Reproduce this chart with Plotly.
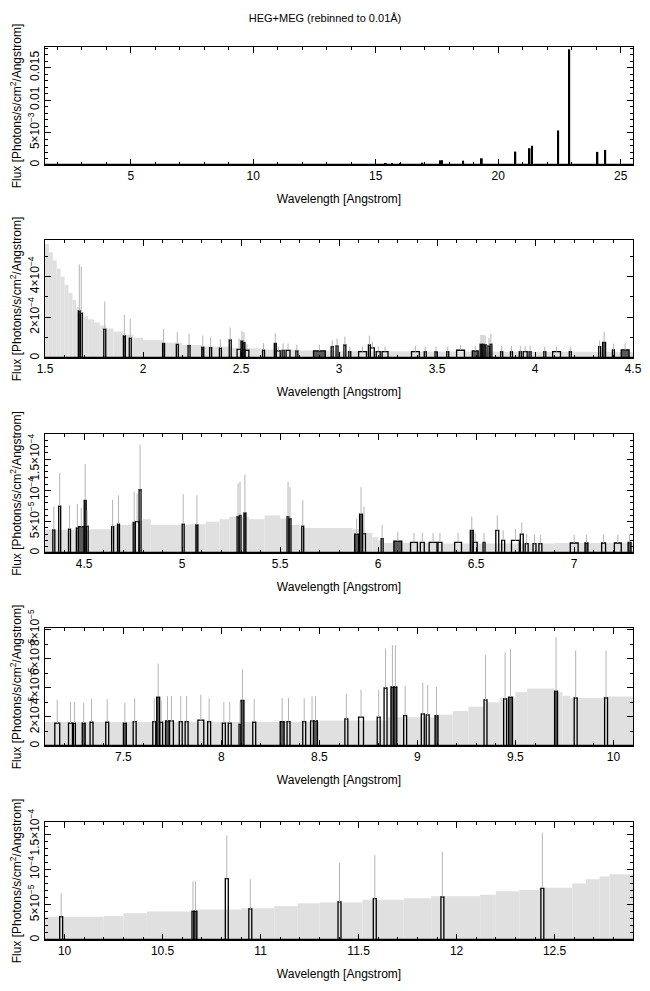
import plotly.graph_objects as go

FONT = "Liberation Sans, Arial, Helvetica, sans-serif"

# ---------------- Panel 1 : full range (line fluxes) ----------------
p1_wave = [15.41, 15.66, 16.00, 16.90, 17.64, 17.71, 18.57, 19.33, 20.70,
           21.28, 21.38, 22.45, 22.90, 24.05, 24.37]
p1_flux = [0.00020, 0.00020, 0.00020, 0.00036, 0.00072, 0.00072, 0.00067,
           0.00103, 0.00207, 0.00259, 0.00295, 0.00533, 0.01784, 0.00202, 0.00233]

# ---------------- Panel 2 : 1.5 - 4.5 A (units 1e-4) ----------------
p2_env_edge = [1.50, 1.52, 1.54, 1.56, 1.58, 1.60, 1.62, 1.64, 1.66, 1.68, 1.70,
               1.72, 1.75, 1.78, 1.81, 1.85, 1.90, 1.95, 2.00, 2.10, 2.20, 2.30,
               2.45, 2.60, 2.80, 3.00, 3.40, 3.80, 4.20, 4.50]
p2_env_val = [5.6, 5.2, 4.8, 4.4, 4.0, 3.6, 3.2, 2.85, 2.5, 2.25, 2.05, 1.9,
              1.75, 1.6, 1.45, 1.3, 1.15, 1.0, 0.88, 0.75, 0.64, 0.56, 0.48,
              0.42, 0.37, 0.33, 0.32, 0.31, 0.31]
p2_lo = [1.670, 1.680, 1.800, 1.900, 1.930, 2.100, 2.170, 2.230, 2.300, 2.340,
         2.390, 2.440, 2.480, 2.500, 2.510, 2.520, 2.610, 2.670, 2.680, 2.710,
         2.730, 2.780, 2.870, 2.960, 2.985, 3.025, 3.050, 3.100, 3.150, 3.160,
         3.190, 3.220, 3.370, 3.435, 3.490, 3.550, 3.600, 3.680, 3.720, 3.730,
         3.740, 3.760, 3.770, 3.825, 3.875, 3.920, 3.940, 3.970, 4.045, 4.090,
         4.175, 4.325, 4.345, 4.395, 4.440]
p2_hi = [1.680, 1.690, 1.810, 1.910, 1.940, 2.110, 2.180, 2.240, 2.310, 2.350,
         2.400, 2.450, 2.500, 2.510, 2.520, 2.540, 2.620, 2.680, 2.700, 2.720,
         2.750, 2.790, 2.930, 2.970, 2.995, 3.035, 3.060, 3.140, 3.160, 3.180,
         3.210, 3.250, 3.410, 3.445, 3.500, 3.560, 3.640, 3.710, 3.730, 3.740,
         3.750, 3.770, 3.780, 3.835, 3.885, 3.930, 3.960, 3.980, 4.055, 4.130,
         4.185, 4.335, 4.360, 4.405, 4.480]
p2_flux = [2.32, 2.20, 1.42, 1.09, 0.97, 0.72, 0.67, 0.61, 0.53, 0.51,
           0.48, 0.89, 0.42, 0.84, 0.77, 0.38, 0.38, 0.72, 0.35, 0.37,
           0.37, 0.35, 0.35, 0.56, 0.60, 0.64, 0.31, 0.31, 0.64, 0.50,
           0.31, 0.31, 0.31, 0.31, 0.31, 0.31, 0.38, 0.35, 0.68, 0.68,
           0.66, 0.60, 0.68, 0.31, 0.31, 0.31, 0.31, 0.31, 0.31, 0.31,
           0.31, 0.56, 0.77, 0.40, 0.40]
p2_err = [2.28, 2.30, 1.36, 1.03, 0.96, 0.71, 0.60, 0.58, 0.57, 0.50,
          0.45, 0.61, 0.55, 0.49, 0.50, 0.30, 0.35, 0.50, 0.20, 0.35,
          0.35, 0.30, 0.30, 0.30, 0.35, 0.41, 0.25, 0.25, 0.46, 0.30,
          0.25, 0.25, 0.28, 0.25, 0.25, 0.25, 0.25, 0.25, 0.46, 0.46,
          0.46, 0.40, 0.50, 0.28, 0.28, 0.28, 0.28, 0.28, 0.25, 0.25,
          0.25, 0.30, 0.51, 0.30, 0.30]
p2_fill = [1, 0, 0, 1, 0, 1, 0, 0, 1, 0,
           0, 0, 0, 1, 1, 0, 0, 1, 0, 0,
           0, 0, 1, 0, 0, 0, 0, 0, 0, 0,
           0, 0, 0, 0, 0, 0, 0, 1, 1, 0,
           1, 0, 0, 0, 0, 0, 0, 0, 0, 0,
           0, 0, 1, 0, 1]

# ---------------- Panel 3 : 4.3 - 7.3 A (units 1e-5) ----------------
p3_env_edge = [4.30, 4.53, 4.64, 4.74, 4.77, 4.80, 4.84, 5.03, 5.12, 5.19, 5.24,
               5.34, 5.42, 5.50, 5.55, 5.60, 5.87, 5.93, 5.97, 6.00, 6.03, 6.30,
               6.60, 6.90, 7.30]
p3_env_val = [3.7, 3.8, 4.5, 4.8, 5.2, 5.4, 4.5, 4.6, 5.0, 5.4, 5.8, 5.4, 6.0,
              5.5, 4.5, 4.0, 3.8, 3.2, 2.5, 2.0, 1.6, 1.5, 1.5, 1.6]
p3_lo = [4.340, 4.370, 4.420, 4.460, 4.470, 4.500, 4.510, 4.640, 4.670, 4.750,
         4.760, 4.780, 5.000, 5.070, 5.280, 5.290, 5.315, 5.535, 5.545, 5.610,
         5.880, 5.905, 5.920, 6.015, 6.080, 6.165, 6.215, 6.260, 6.305, 6.390,
         6.470, 6.485, 6.535, 6.600, 6.630, 6.680, 6.725, 6.750, 6.790, 6.820,
         6.980, 7.055, 7.140, 7.205, 7.275]
p3_hi = [4.350, 4.380, 4.430, 4.470, 4.500, 4.510, 4.520, 4.650, 4.680, 4.760,
         4.780, 4.790, 5.010, 5.080, 5.290, 5.300, 5.325, 5.545, 5.555, 5.620,
         5.900, 5.920, 5.935, 6.025, 6.120, 6.200, 6.235, 6.300, 6.325, 6.425,
         6.485, 6.505, 6.545, 6.615, 6.645, 6.720, 6.740, 6.765, 6.805, 6.835,
         7.020, 7.070, 7.160, 7.240, 7.290]
p3_flux = [3.7, 7.5, 3.8, 4.0, 4.2, 8.4, 4.3, 4.2, 4.6, 4.9,
           5.0, 10.1, 4.6, 4.5, 5.8, 6.0, 6.4, 5.8, 5.5, 4.3,
           3.0, 6.2, 3.1, 2.3, 1.9, 1.7, 1.7, 1.7, 1.7, 1.7,
           3.6, 1.7, 1.7, 3.6, 2.0, 2.0, 3.0, 1.5, 1.5, 1.5,
           1.6, 1.6, 1.6, 1.6, 1.7]
p3_err = [3.7, 5.3, 3.9, 3.85, 3.0, 5.8, 2.5, 4.3, 4.6, 4.9,
          4.5, 7.2, 4.8, 4.7, 5.3, 5.4, 6.1, 5.6, 5.0, 4.1,
          2.5, 4.3, 4.3, 2.2, 1.5, 1.5, 1.5, 1.5, 1.5, 1.5,
          2.2, 1.5, 1.5, 2.4, 1.6, 1.8, 1.9, 1.5, 1.4, 1.4,
          1.3, 1.3, 1.3, 1.3, 1.3]
p3_fill = [0, 0, 0, 0, 1, 1, 0, 0, 1, 0,
           0, 0, 0, 1, 0, 0, 1, 0, 0, 0,
           1, 1, 0, 0, 1, 0, 0, 0, 0, 0,
           1, 0, 0, 0, 0, 0, 0, 0, 0, 0,
           0, 1, 0, 0, 1]

# ---------------- Panel 4 : 7.1 - 10.1 A (units 1e-5) ----------------
p4_env_edge = [7.10, 8.50, 8.85, 9.10, 9.18, 9.26, 9.34, 9.42, 9.50, 9.56,
               9.70, 9.74, 9.78, 9.95, 10.10]
p4_env_val = [1.64, 1.75, 1.98, 2.15, 2.4, 2.7, 3.0, 3.3, 3.7, 3.95, 3.7,
              3.45, 3.3, 3.4]
p4_lo = [7.150, 7.220, 7.245, 7.290, 7.330, 7.410, 7.500, 7.550, 7.650, 7.670,
         7.685, 7.715, 7.735, 7.785, 7.815, 7.880, 7.930, 8.005, 8.035, 8.090,
         8.100, 8.160, 8.300, 8.335, 8.415, 8.455, 8.470, 8.630, 8.700, 8.795,
         8.830, 8.865, 8.880, 8.930, 9.020, 9.045, 9.090, 9.340, 9.440, 9.465,
         9.700, 9.800, 9.955]
p4_hi = [7.175, 7.240, 7.255, 7.305, 7.345, 7.425, 7.515, 7.565, 7.665, 7.685,
         7.700, 7.735, 7.755, 7.800, 7.830, 7.910, 7.945, 8.020, 8.050, 8.100,
         8.115, 8.175, 8.320, 8.350, 8.430, 8.470, 8.490, 8.645, 8.725, 8.810,
         8.845, 8.880, 8.895, 8.945, 9.035, 9.060, 9.105, 9.355, 9.455, 9.485,
         9.715, 9.815, 9.970]
p4_flux = [1.57, 1.57, 1.57, 1.57, 1.63, 1.63, 1.57, 1.67, 1.67, 3.36,
           1.63, 1.72, 1.72, 1.68, 1.68, 1.77, 1.68, 1.57, 1.57, 1.50,
           3.13, 1.63, 1.68, 1.68, 1.68, 1.72, 1.72, 1.86, 1.98, 1.98,
           3.98, 4.05, 4.05, 2.09, 2.20, 2.14, 2.09, 3.17, 3.24, 3.36,
           3.77, 3.31, 3.31]
p4_err = [1.6, 1.45, 1.45, 1.4, 1.6, 1.6, 1.4, 1.6, 1.6, 2.3,
          1.5, 1.7, 1.7, 1.75, 1.75, 1.75, 1.6, 1.45, 1.45, 1.5,
          2.13, 1.6, 1.6, 1.6, 1.6, 1.7, 1.7, 1.73, 1.88, 1.88,
          2.71, 2.87, 2.87, 2.03, 2.15, 2.06, 1.96, 3.06, 3.18, 3.29,
          3.70, 3.25, 3.25]
p4_fill = [0, 0, 0, 1, 0, 0, 1, 0, 0, 1,
           0, 1, 0, 0, 0, 0, 0, 0, 0, 0,
           1, 0, 1, 0, 0, 0, 1, 0, 0, 0,
           0, 1, 1, 0, 0, 0, 1, 0, 0, 1,
           1, 0, 0]

# ---------------- Panel 5 : 9.9 - 12.9 A (units 1e-5) ----------------
p5_env_edge = [9.90, 10.20, 10.30, 10.42, 10.68, 10.90, 11.07, 11.19, 11.30,
               11.52, 11.73, 11.87, 12.12, 12.20, 12.32, 12.42, 12.59, 12.66,
               12.73, 12.78, 12.90]
p5_env_val = [3.3, 3.4, 3.8, 4.05, 4.3, 4.5, 4.8, 5.2, 5.3, 5.7, 5.9, 6.2,
              6.4, 6.9, 7.1, 7.4, 8.0, 8.6, 9.0, 9.3]
p5_lo = [9.975, 10.650, 10.660, 10.820, 10.940, 11.395, 11.575, 11.920, 12.430]
p5_hi = [9.990, 10.660, 10.675, 10.835, 10.955, 11.410, 11.590, 11.935, 12.445]
p5_flux = [3.3, 4.1, 4.1, 8.7, 4.4, 5.4, 5.85, 6.1, 7.3]
p5_err = [3.3, 4.2, 4.2, 6.1, 4.2, 5.5, 6.15, 6.4, 7.9]
p5_fill = [0, 0, 1, 0, 0, 0, 0, 0, 0]

# ---------------- axis settings ----------------
x_ranges = [[1.5, 25.5], [1.5, 4.5], [4.3, 7.3], [7.1, 10.1], [9.9, 12.9]]
x_dtick = [5, 0.5, 0.5, 0.5, 0.5]
x_minor = [1, 0.1, 0.1, 0.1, 0.1]
y_ranges = [[0, 0.0182], [0, 5.8e-4], [0, 1.9e-4], [0, 8.1e-5], [0, 1.67e-4]]
y_minor = [0.001, 1e-4, 1e-5, 1e-5, 1e-5]
y_tickvals = [[0, 0.005, 0.01, 0.015],
              [0, 2e-4, 4e-4],
              [0, 5e-5, 1e-4, 1.5e-4],
              [0, 2e-5, 4e-5, 6e-5, 8e-5],
              [0, 5e-5, 1e-4, 1.5e-4]]
y_ticktext = [["0", "5×10<sup>−3</sup>", "0.01", "0.015"],
              ["0", "2×10<sup>−4</sup>", "4×10<sup>−4</sup>"],
              ["0", "5×10<sup>−5</sup>", "10<sup>−4</sup>", "1.5×10<sup>−4</sup>"],
              ["0", "2×10<sup>−5</sup>", "4×10<sup>−5</sup>", "6×10<sup>−5</sup>", "8×10<sup>−5</sup>"],
              ["0", "5×10<sup>−5</sup>", "10<sup>−4</sup>", "1.5×10<sup>−4</sup>"]]

W, H = 650, 991
panel_px = [(47, 165), (240, 358), (434, 553), (628, 746), (822, 940)]
x_dom = [45 / W, 633 / W]

fig = go.Figure()

# panel 1 spikes
fig.add_trace(go.Bar(x=p1_wave, y=p1_flux, width=0.07, marker=dict(color="black", line=dict(width=0)),
                     xaxis="x", yaxis="y", showlegend=False))

panels = [
    (p2_env_edge, p2_env_val, p2_lo, p2_hi, p2_flux, p2_err, p2_fill, 1e-4),
    (p3_env_edge, p3_env_val, p3_lo, p3_hi, p3_flux, p3_err, p3_fill, 1e-5),
    (p4_env_edge, p4_env_val, p4_lo, p4_hi, p4_flux, p4_err, p4_fill, 1e-5),
    (p5_env_edge, p5_env_val, p5_lo, p5_hi, p5_flux, p5_err, p5_fill, 1e-5),
]

for k, (ee, ev, lo, hi, fl, er, fi, unit) in enumerate(panels):
    ax = str(k + 2)
    xs = "x" + ax
    ys = "y" + ax
    # error envelope of the zero-flux bins (drawn first, behind)
    fig.add_trace(go.Bar(
        x=[(ee[j] + ee[j + 1]) / 2 for j in range(len(ev))],
        y=[v * unit for v in ev],
        width=[ee[j + 1] - ee[j] for j in range(len(ev))],
        marker=dict(color="#eeeeee", line=dict(width=0),
                    pattern=dict(shape="|", fgcolor="#b0b0b0", bgcolor="#f0f0f0",
                                 size=2, solidity=0.5)),
        xaxis=xs, yaxis=ys, showlegend=False, hoverinfo="skip"))
    # non-zero flux bins with their error bars
    fig.add_trace(go.Bar(
        x=[(a + b) / 2 for a, b in zip(lo, hi)],
        y=[v * unit for v in fl],
        width=[b - a for a, b in zip(lo, hi)],
        marker=dict(color=["#5a5a5a" if f else "rgba(0,0,0,0)" for f in fi],
                    line=dict(color="black", width=1.3)),
        error_y=dict(type="data", symmetric=False, array=[e * unit for e in er],
                     arrayminus=[0] * len(er), color="#b4b4b4", thickness=1, width=0),
        xaxis=xs, yaxis=ys, showlegend=False))

layout = dict(
    width=W, height=H, margin=dict(l=0, r=0, t=0, b=0),
    paper_bgcolor="white", plot_bgcolor="white",
    font=dict(family=FONT, size=12, color="black"),
    barmode="overlay",
    title=dict(text="HEG+MEG (rebinned to 0.01Å)", x=0.5, xref="paper", xanchor="center",
               y=1 - 18 / H, yanchor="middle", font=dict(size=11, family=FONT)),
)

for i in range(5):
    top, bot = panel_px[i]
    sfx = "" if i == 0 else str(i + 1)
    layout["xaxis" + sfx] = dict(
        domain=x_dom, range=x_ranges[i], anchor="y" + sfx, automargin=False,
        showline=True, linecolor="black", linewidth=1, mirror="allticks",
        ticks="inside", ticklen=6, tickcolor="black", dtick=x_dtick[i], tick0=0,
        minor=dict(ticks="inside", ticklen=3, tickcolor="black", dtick=x_minor[i], tick0=0),
        showgrid=False, zeroline=False,
        tickfont=dict(size=12, family=FONT),
        title=dict(text="Wavelength [Angstrom]", font=dict(size=12, family=FONT), standoff=12),
    )
    layout["yaxis" + sfx] = dict(
        domain=[1 - bot / H, 1 - top / H], range=y_ranges[i], anchor="x" + sfx, automargin=False,
        showline=True, linecolor="black", linewidth=1, mirror="allticks",
        ticks="inside", ticklen=6, tickcolor="black",
        tickmode="array", tickvals=y_tickvals[i], ticktext=y_ticktext[i],
        minor=dict(ticks="inside", ticklen=3, tickcolor="black", tickmode="linear",
                   dtick=y_minor[i], tick0=0),
        showgrid=False, zeroline=False, tickangle=-90,
        tickfont=dict(size=12, family=FONT),
        title=dict(text="Flux [Photons/s/cm<sup>2</sup>/Angstrom]", font=dict(size=12, family=FONT), standoff=1),
    )

fig.update_layout(**layout)

# thick histogram baseline at zero flux
for i in range(5):
    sfx = "" if i == 0 else str(i + 1)
    fig.add_shape(type="line", xref=("x" + sfx) + " domain", yref="y" + sfx,
                  x0=0, x1=1, y0=0, y1=0, line=dict(color="black", width=2.5), layer="above")

fig.write_html("out.html", config={"displayModeBar": False},
               post_script="document.body.style.margin='0px';")
